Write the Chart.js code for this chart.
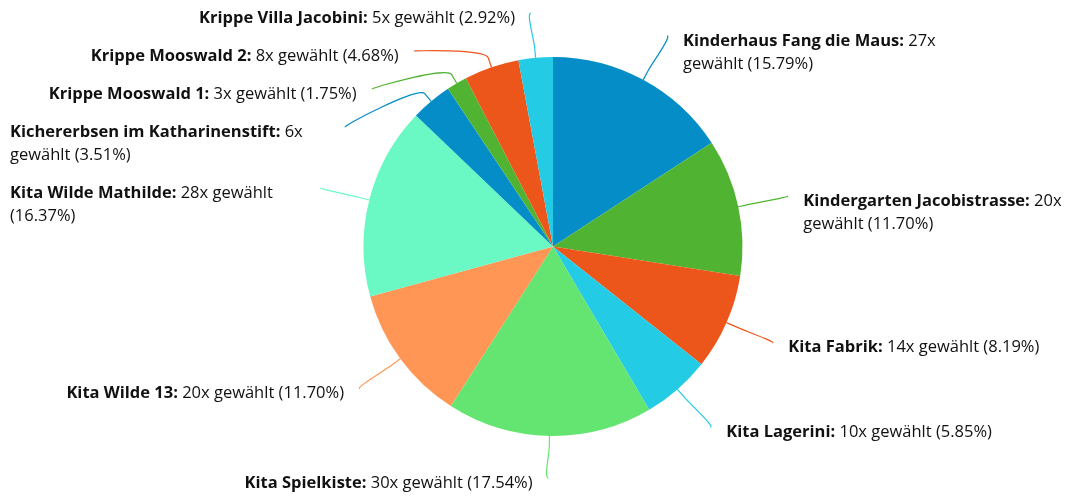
<!DOCTYPE html>
<html>
<head>
<meta charset="utf-8">
<script src="https://cdn.jsdelivr.net/npm/chart.js@4"></script>
<style>
  html, body { margin: 0; padding: 0; background: #fff; }
</style>
</head>
<body>
<canvas id="kitaChart" width="1067" height="497"></canvas>
<script>
// Kita votes
const schools = [
    'Kinderhaus Fang die Maus',
    'Kindergarten Jacobistrasse',
    'Kita Fabrik',
    'Kita Lagerini',
    'Kita Spielkiste',
    'Kita Wilde 13',
    'Kita Wilde Mathilde',
    'Kichererbsen im Katharinenstift',
    'Krippe Mooswald 1',
    'Krippe Mooswald 2',
    'Krippe Villa Jacobini'
];
const votes = [27, 20, 14, 10, 30, 20, 28, 6, 3, 8, 5];
const sliceColors = [
    '#058DC7', '#50B432', '#ED561B', '#24CBE5', '#64E572', '#FF9655',
    '#6AF9C4', '#058DC7', '#50B432', '#ED561B', '#24CBE5'
];

const total = votes.reduce((a, b) => a + b, 0);

const FONT_FAMILY = '"Open Sans", sans-serif';
const FONT_SIZE = 16.5;
const LINE_H = 23;
const LABEL_DIST = 50;   // label distance from the pie edge
const BREAK_DIST = 10;   // where the connector bends
const TEXT_GAP = 16;     // connector end to text
const TOP_Y = 13;

function fontFor(bold) {
    return (bold ? 'bold ' : '') + FONT_SIZE + 'px ' + FONT_FAMILY;
}

function labelWords(i) {
    const pct = (votes[i] / total * 100).toFixed(2);
    const words = [];
    const nameParts = (schools[i] + ':').split(' ');
    nameParts.forEach(w => words.push({ text: w, bold: true }));
    (votes[i] + 'x gewählt (' + pct + '%)').split(' ').forEach(w => words.push({ text: w, bold: false }));
    return words;
}

function wrapWords(ctx, words, maxWidth) {
    ctx.font = fontFor(false);
    const space = ctx.measureText(' ').width;
    const lines = [];
    let cur = [], curW = 0;
    words.forEach(w => {
        ctx.font = fontFor(w.bold);
        const ww = ctx.measureText(w.text).width;
        const addW = cur.length ? space + ww : ww;
        if (cur.length && curW + addW > maxWidth) {
            lines.push({ words: cur, width: curW });
            cur = [w]; curW = ww;
        } else {
            cur.push(w); curW += addW;
        }
        w.width = ww;
    });
    if (cur.length) lines.push({ words: cur, width: curW });
    return { lines, space };
}

const pieLabels = {
    id: 'pieLabels',
    afterDraw(chart) {
        const ctx = chart.ctx;
        const W = chart.width, H = chart.height;
        const arcs = chart.getDatasetMeta(0).data;

        const items = arcs.map((arc, i) => {
            const p = arc.getProps(['x', 'y', 'startAngle', 'endAngle', 'outerRadius'], true);
            const mid = (p.startAngle + p.endAngle) / 2;
            const R = p.outerRadius + LABEL_DIST;
            return {
                i, cx: p.x, cy: p.y, r: p.outerRadius, mid, R,
                left: Math.cos(mid) < 0,
                naturalY: p.y + Math.sin(mid) * R,
                words: labelWords(i),
                nLines: 1
            };
        });

        function bottomFor(it) {
            return H - 19 - LINE_H * (it.nLines - 1);
        }

        function layout() {
            [true, false].forEach(side => {
                const list = items.filter(it => it.left === side).sort((a, b) => a.naturalY - b.naturalY);
                list.forEach((it, k) => {
                    let y = it.naturalY;
                    if (k === 0) y = Math.max(y, TOP_Y);
                    else {
                        const prev = list[k - 1];
                        y = Math.max(y, prev.y + 15 + LINE_H * prev.nLines);
                    }
                    it.y = y;
                });
                for (let k = list.length - 1; k >= 0; k--) {
                    const it = list[k];
                    let y = Math.min(it.y, bottomFor(it));
                    if (k < list.length - 1) y = Math.min(y, list[k + 1].y - 15 - LINE_H * it.nLines);
                    it.y = y;
                }
            });
            items.forEach(it => {
                const clamped = it.y <= TOP_Y + 2 || it.y >= bottomFor(it) - 2;
                const useY = clamped ? it.naturalY : it.y;
                const dy = Math.min(Math.abs(useY - it.cy), it.R);
                const dx = Math.sqrt(it.R * it.R - dy * dy);
                it.x = it.cx + (it.left ? -dx : dx);
                if (it.left) {
                    it.textEdge = it.x - TEXT_GAP;
                    it.maxW = it.textEdge - 10;
                } else {
                    it.textEdge = it.x + TEXT_GAP;
                    it.maxW = Math.min(300, W - it.textEdge);
                }
                it.wrap = wrapWords(ctx, it.words, it.maxW);
                it.nLines = it.wrap.lines.length;
            });
        }

        layout();
        layout();

        ctx.save();
        // connectors
        items.forEach(it => {
            const cos = Math.cos(it.mid), sin = Math.sin(it.mid);
            const tx = it.cx + cos * it.r, ty = it.cy + sin * it.r;
            const bx = it.cx + cos * (it.r + BREAK_DIST), by = it.cy + sin * (it.r + BREAK_DIST);
            ctx.beginPath();
            ctx.moveTo(it.x, it.y);
            ctx.bezierCurveTo(it.x + (it.left ? -5 : 5), it.y, 2 * bx - tx, 2 * by - ty, bx, by);
            ctx.lineTo(tx, ty);
            ctx.strokeStyle = sliceColors[it.i];
            ctx.lineWidth = 1.2;
            ctx.stroke();
        });

        // texts
        ctx.fillStyle = '#111';
        ctx.textBaseline = 'middle';
        ctx.textAlign = 'left';
        items.forEach(it => {
            const lines = it.wrap.lines;
            let boxLeft;
            if (it.left) {
                boxLeft = lines.length > 1 ? it.textEdge - it.maxW : it.textEdge - lines[0].width;
            } else {
                boxLeft = it.textEdge;
            }
            lines.forEach((line, li) => {
                let x = boxLeft;
                const y = it.y + 5 + li * LINE_H;
                line.words.forEach((w, wi) => {
                    if (wi > 0) x += it.wrap.space;
                    ctx.font = fontFor(w.bold);
                    ctx.fillText(w.text, x, y);
                    x += w.width;
                });
            });
        });
        ctx.restore();
    }
};

function buildChart() {
    new Chart(document.getElementById('kitaChart'), {
        type: 'pie',
        data: {
            labels: schools,
            datasets: [{
                data: votes,
                backgroundColor: sliceColors,
                borderWidth: 0
            }]
        },
        options: {
            responsive: false,
            animation: false,
            devicePixelRatio: 1,
            layout: {
                padding: { top: 57, bottom: 61, left: 363.5, right: 324.5 }
            },
            plugins: {
                legend: { display: false },
                tooltip: { enabled: false }
            }
        },
        plugins: [pieLabels]
    });
}

Promise.all([
    document.fonts.load('16.5px "Open Sans"'),
    document.fonts.load('bold 16.5px "Open Sans"')
]).then(buildChart, buildChart);
</script>
</body>
</html>
